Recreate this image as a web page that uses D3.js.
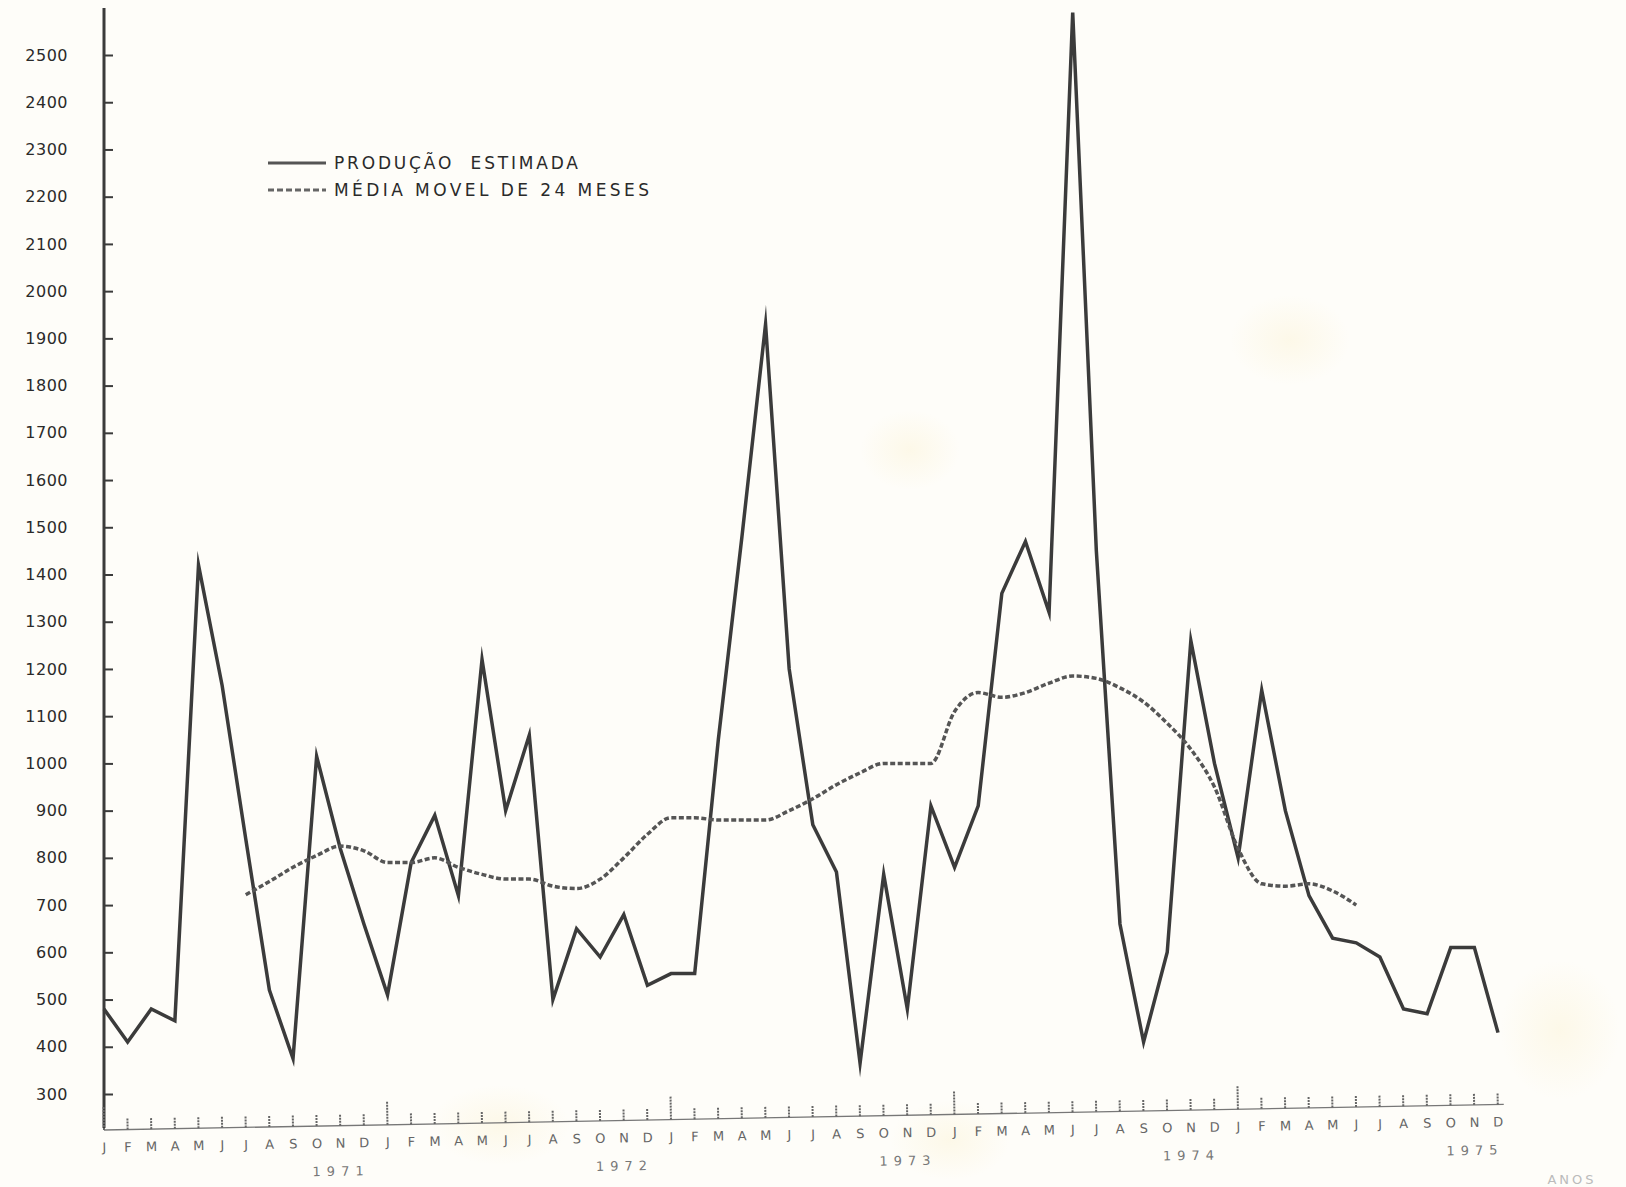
<!DOCTYPE html>
<html>
<head>
<meta charset="utf-8">
<script src="https://cdn.jsdelivr.net/npm/d3@7"></script>
<style>
  html, body { margin: 0; padding: 0; background: #fefdf9; }
  svg { display: block; }
  text { font-family: "DejaVu Sans", sans-serif; }
</style>
</head>
<body>
<svg id="chart" width="1626" height="1187"></svg>
<script>
// ---- data ----
const monthLabels = ["J","F","M","A","M","J","J","A","S","O","N","D"];
const years = ["1971","1972","1973","1974","1975"];
const yTicks = [300,400,500,600,700,800,900,1000,1100,1200,1300,1400,1500,1600,1700,1800,1900,2000,2100,2200,2300,2400,2500];

// Produção estimada, Jan 1971 .. Dez 1975 (60 meses)
const producao = [
  480, 410, 480, 455, 1420, 1165, 840, 520, 375, 1015, 820, 660,
  510, 790, 890, 720, 1220, 900, 1060, 500, 650, 590, 680, 530,
  555, 555, 1050, 1480, 1930, 1200, 870, 770, 365, 765, 480, 910,
  780, 910, 1360, 1470, 1320, 2590, 1450, 660, 410, 600, 1260, 1000,
  800, 1155, 900, 720, 630, 620, 590, 480, 470, 610, 610, 430
];
// Média móvel de 24 meses, Jul 1971 .. Jun 1975
const mediaStart = 6;
const mediaMovel = [
  722, 750, 780, 805, 825, 815,
  790, 790, 800, 780, 765, 755, 755, 740, 735, 755, 800, 850,
  885, 885, 880, 880, 880, 900, 925, 955, 980, 1000, 1000, 1000,
  1110, 1150, 1140, 1150, 1170, 1185, 1180, 1160, 1130, 1085, 1030, 950,
  820, 745, 740, 745, 730, 700
];
const legendItems = ["PRODUÇÃO  ESTIMADA", "MÉDIA MOVEL DE 24 MESES"];

// ---- scales ----
const svg = d3.select("#chart");
const nMonths = years.length * 12;
const x = d3.scaleLinear().domain([0, nMonths - 1]).range([104, 1498]);
const y = d3.scaleLinear().domain([300, 2500]).range([1094, 55]);

const ink = "#3b3b3b";

// faint paper stains
const defs = svg.append("defs");
const rg = defs.append("radialGradient").attr("id", "stain");
rg.append("stop").attr("offset", "0%").attr("stop-color", "#fbf1cf").attr("stop-opacity", 0.4);
rg.append("stop").attr("offset", "100%").attr("stop-color", "#fbf1cf").attr("stop-opacity", 0);
[[1290, 340, 60, 45], [910, 450, 50, 40], [500, 1125, 70, 40], [950, 1140, 60, 40], [1560, 1030, 60, 70]]
  .forEach(([cx, cy, rx, ry]) => svg.append("ellipse").attr("cx", cx).attr("cy", cy)
    .attr("rx", rx).attr("ry", ry).attr("fill", "url(#stain)"));

// ---- y axis ----
const yAxis = d3.axisLeft(y).tickValues(yTicks).tickFormat(d3.format("d"))
  .tickSizeInner(-9).tickSizeOuter(0).tickPadding(36);
const gy = svg.append("g").attr("transform", `translate(${x(0)},0)`).call(yAxis);
gy.select(".domain").remove();
gy.selectAll(".tick line").attr("stroke", ink).attr("stroke-width", 2);
gy.selectAll(".tick text").attr("fill", "#2a2a2a").style("font-size", "16px")
  .style("letter-spacing", "0.5px").attr("font-family", null);
svg.append("line").attr("x1", x(0)).attr("x2", x(0)).attr("y1", 8).attr("y2", 1128)
  .attr("stroke", ink).attr("stroke-width", 3);

// ---- x axis (typed, slightly skewed on paper) ----
const gx = svg.append("g").attr("transform", `rotate(-1.05, ${x(0)}, 1130)`);
gx.append("line").attr("x1", x(0)).attr("x2", x(nMonths - 1) + 6)
  .attr("y1", 1130).attr("y2", 1130).attr("stroke", "#777").attr("stroke-width", 1.3);
const months = d3.range(nMonths);
gx.selectAll("line.tk").data(months).join("line").attr("class", "tk")
  .attr("x1", d => x(d)).attr("x2", d => x(d))
  .attr("y1", 1130).attr("y2", d => d % 12 === 0 ? 1106 : 1118)
  .attr("stroke", "#666").attr("stroke-width", 2).attr("stroke-dasharray", "2,1");
gx.selectAll("text.m").data(months).join("text").attr("class", "m")
  .attr("x", d => x(d)).attr("y", 1152).attr("text-anchor", "middle")
  .attr("fill", "#666").style("font-size", "13px")
  .text(d => monthLabels[d % 12]);
gx.selectAll("text.yr").data(years).join("text").attr("class", "yr")
  .attr("x", (d, i) => x(i * 12 + 10)).attr("y", 1180).attr("text-anchor", "middle")
  .attr("fill", "#777").style("font-size", "13px").style("letter-spacing", "6px")
  .text(d => d);
svg.append("text").attr("x", 1572).attr("y", 1184).attr("text-anchor", "middle")
  .attr("fill", "#bbb").style("font-size", "13px").style("letter-spacing", "3px").text("ANOS");

// ---- lines ----
const line = d3.line().x(d => x(d.i)).y(d => y(d.v));
svg.append("path")
  .datum(producao.map((v, i) => ({i, v})))
  .attr("d", line).attr("fill", "none").attr("stroke", ink)
  .attr("stroke-width", 3.5).attr("stroke-linejoin", "miter").attr("stroke-miterlimit", 12);
svg.append("path")
  .datum(mediaMovel.map((v, k) => ({i: k + mediaStart, v})))
  .attr("d", d3.line().curve(d3.curveMonotoneX).x(d => x(d.i)).y(d => y(d.v)))
  .attr("fill", "none").attr("stroke", "#555")
  .attr("stroke-width", 3.5).attr("stroke-dasharray", "5,2.5");

// ---- legend ----
const lg = svg.append("g");
legendItems.forEach((t, k) => {
  const yy = 169 + k * 27;
  lg.append("line").attr("x1", 268).attr("x2", 326).attr("y1", yy - 6).attr("y2", yy - 6)
    .attr("stroke", k === 0 ? "#555" : "#666").attr("stroke-width", 3)
    .attr("stroke-dasharray", k === 0 ? null : "6,3");
  lg.append("text").attr("x", 334).attr("y", yy).attr("fill", "#2a2a2a")
    .style("font-size", "17px").style("white-space", "pre")
    .attr("textLength", k === 0 ? 244 : 315).attr("lengthAdjust", "spacing")
    .text(t);
});
</script>
</body>
</html>
